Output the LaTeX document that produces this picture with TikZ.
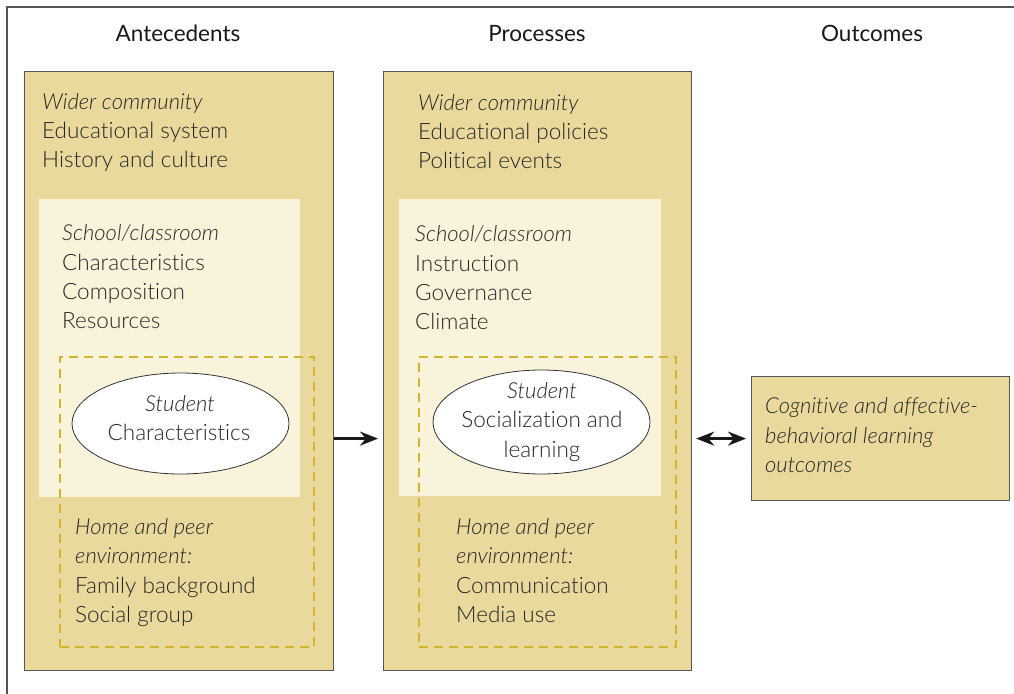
\documentclass[tikz,border=0pt]{standalone}
\usepackage{fontspec}
\setmainfont{Lato}
\newfontfamily\lightfont{Lato}[UprightFont={* Light}, ItalicFont={* Light Italic}, Ligatures=NoCommon]
\usetikzlibrary{shapes.geometric,arrows.meta}
\definecolor{boxfill}{HTML}{EAD99D}
\definecolor{lightfill}{HTML}{FAF3DC}
\definecolor{dashcol}{HTML}{D2B52C}
\definecolor{txt}{HTML}{262626}
\definecolor{framecol}{HTML}{555555}
\tikzset{
  bigbox/.style={draw=framecol, line width=1.2pt, fill=boxfill, anchor=north west, inner sep=0pt},
  lightbox/.style={fill=lightfill, anchor=north west, inner sep=0pt},
  dashbox/.style={draw=dashcol, line width=1.8pt, dash pattern=on 9pt off 6pt, anchor=north west, inner sep=0pt},
  stud/.style={ellipse, draw=black!80, line width=0.8pt, fill=white, inner sep=0pt},
  tl/.style={anchor=base west, inner sep=0pt, text=txt, font=\lightfont\fontsize{22.5}{26}\selectfont},
  ti/.style={tl, font=\lightfont\fontsize{22}{26}\selectfont\itshape},
  tc/.style={anchor=base, inner sep=0pt, text=txt, font=\lightfont\fontsize{22.5}{26}\selectfont},
  tci/.style={tc, font=\lightfont\fontsize{22}{26}\selectfont\itshape},
  head/.style={anchor=base, inner sep=0pt, text=black!90, font=\fontsize{22.5}{26}\selectfont},
  arr/.style={line width=2.5pt, black!90, -{Stealth[length=18pt,width=14pt]}},
  darr/.style={line width=2.5pt, black!90, {Stealth[length=18pt,width=14pt]}-{Stealth[length=18pt,width=14pt]}}
}
\begin{document}
\begin{tikzpicture}[x=1pt,y=-1pt]
\useasboundingbox (0,0) rectangle (1014,693);
\fill[white] (0,0) rectangle (1014,693);
\draw[framecol, line width=1.2pt] (7,700) coordinate (fb) -- (7,7) coordinate (fc) -- (1020,7) coordinate (fd);
% headers
\node[head] (h1) at (178,42) {Antecedents};
\node[head] (h2) at (537,42) {Processes};
\node[head] (h3) at (872,42) {Outcomes};
% big boxes
\node[bigbox, minimum width=309pt, minimum height=599pt] (L) at (24,71) {};
\node[bigbox, minimum width=308pt, minimum height=599pt] (M) at (383,71) {};
\node[bigbox, minimum width=258pt, minimum height=124pt] (R) at (751,376) {};
% light boxes
\node[lightbox, minimum width=261pt, minimum height=298pt] (Ll) at (39,199) {};
\node[lightbox, minimum width=262pt, minimum height=297pt] (Ml) at (399,199) {};
% dashed boxes
\node[dashbox, minimum width=254pt, minimum height=290pt] (Ld) at (59,356) {};
\node[dashbox, minimum width=257pt, minimum height=290pt] (Md) at (418,356) {};
% ellipses
\node[stud, minimum width=217pt, minimum height=101pt] (Le) at (180.5,423.5) {};
\node[stud, minimum width=217pt, minimum height=104pt] (Me) at (541.5,422) {};
% left texts
\node[ti] (l1) at (42,109) {Wider community};
\node[tl] (l2) at (42,138) {Educational system};
\node[tl] (l3) at (42,167) {History and culture};
\node[ti] (l4) at (62,240) {School/classroom};
\node[tl] (l5) at (62,270) {Characteristics};
\node[tl] (l6) at (62,299) {Composition};
\node[tl] (l7) at (62,328) {Resources};
\node[tci] (l8) at (180,411) {Student};
\node[tc] (l9) at (179,440) {Characteristics};
\node[ti] (l10) at (75,534) {Home and peer};
\node[ti] (l11) at (75,563) {environment:};
\node[tl] (l12) at (75,593) {Family background};
\node[tl] (l13) at (75,622) {Social group};
% middle texts
\node[ti] (m1) at (418,110) {Wider community};
\node[tl] (m2) at (418,139) {Educational policies};
\node[tl] (m3) at (418,168) {Political events};
\node[ti] (m4) at (415,241) {School/classroom};
\node[tl] (m5) at (415,271) {Instruction};
\node[tl] (m6) at (415,300) {Governance};
\node[tl] (m7) at (415,329) {Climate};
\node[tci] (m8) at (542,398) {Student};
\node[tc] (m9) at (542,427) {Socialization and};
\node[tc] (m10) at (542,457) {learning};
\node[ti] (m11) at (456,534) {Home and peer};
\node[ti] (m12) at (456,563) {environment:};
\node[tl] (m13) at (456,593) {Communication};
\node[tl] (m14) at (456,622) {Media use};
% right texts
\node[ti] (r1) at (765,413) {Cognitive and affective-};
\node[ti] (r2) at (765,443) {behavioral learning};
\node[ti] (r3) at (765,472) {outcomes};
% arrows
\draw[arr, shorten >=5pt] (L.east |- R.west) -- (M.west |- R.west);
\draw[darr, shorten <=4pt, shorten >=5pt] (M.east |- R.west) -- (R.west);
\end{tikzpicture}
\end{document}
